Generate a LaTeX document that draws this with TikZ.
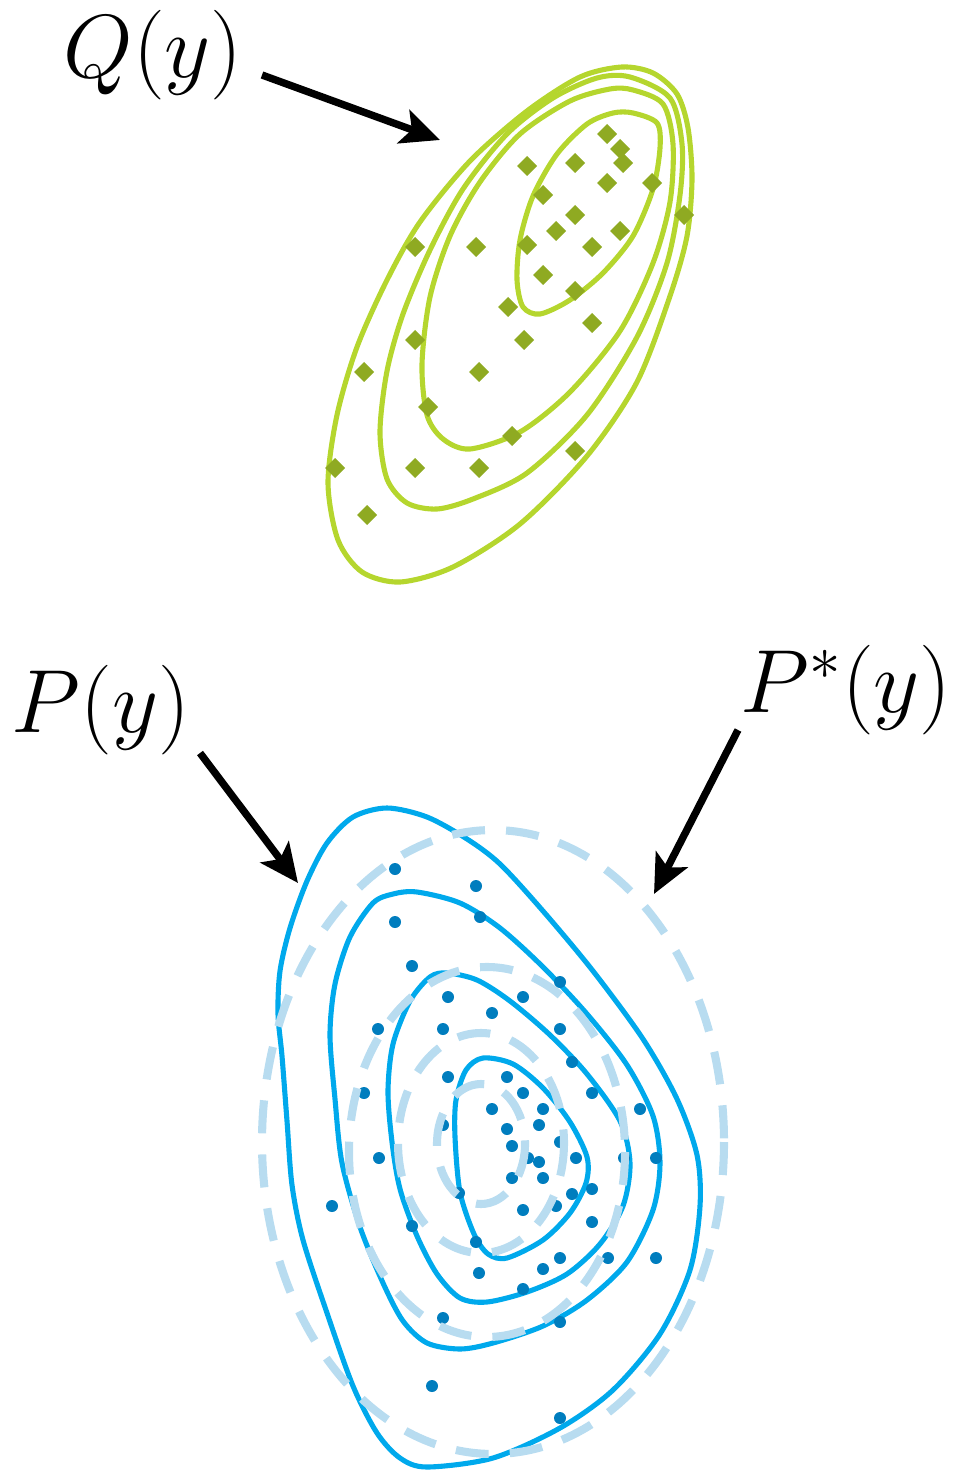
\documentclass[tikz,border=0pt]{standalone}
\usepackage{fix-cm}
\usetikzlibrary{arrows.meta}

\definecolor{qline}{RGB}{181,214,46}
\definecolor{qmark}{RGB}{143,170,34}
\definecolor{pline}{RGB}{0,169,236}
\definecolor{pmark}{RGB}{0,125,190}
\definecolor{pdash}{RGB}{184,220,240}

\begin{document}
\begin{tikzpicture}[
    x=0.01cm, y=-0.01cm,
    lbl/.style={inner sep=0pt, font=\fontsize{25.5}{30}\selectfont},
    arrow/.style={-{Stealth[length=11pt,width=10pt,inset=2.5pt]}, line width=2.1pt},
    qcont/.style={draw=qline, line width=1.45pt},
    pcont/.style={draw=pline, line width=1.45pt},
    pstar/.style={draw=pdash, line width=2.3pt, dash pattern=on 9.4pt off 6pt}
]
\useasboundingbox (0,0) rectangle (955,1470);

% labels
\node[lbl] (qlab) at (153,55) {$Q(y)$};
\node[lbl] (plab) at (101,710) {$P(y)$};
\node[lbl] (pslab) at (846,690) {$P^*(y)$};

\coordinate (qfrom) at (262,75);
\coordinate (qto) at (440,140);
\coordinate (pfrom) at (200,753);
\coordinate (pto) at (298,883);
\coordinate (psfrom) at (738,730);
\coordinate (psto) at (654,894);

% Q(y): contours and samples
\draw[qcont] plot[smooth cycle] coordinates {(622,67) (653,73) (677,94) (688,128) (692,179) (687,236) (670,296) (637,382) (587,456) (520,524) (453,567) (400,582) (362,572) (338,540) (328,483) (337,415) (357,347) (387,280) (420,222) (470,161) (527,111) (580,77)};
\draw[qcont] plot[smooth cycle] coordinates {(630,77) (670,98) (682,144) (680,195) (667,263) (637,337) (587,415) (527,473) (473,499) (437,509) (407,503) (387,479) (380,432) (387,371) (403,314) (430,250) (463,189) (507,134) (553,98) (597,78)};
\draw[qcont] plot[smooth cycle] coordinates {(633,90) (663,104) (673,144) (670,202) (653,263) (620,331) (570,392) (520,432) (470,449) (443,439) (427,415) (422,364) (430,297) (450,236) (480,182) (520,134) (570,101) (610,89)};
\draw[qcont] plot[smooth cycle] coordinates {(633,113) (657,123) (660,148) (653,189) (633,236) (603,273) (570,300) (540,314) (523,307) (517,280) (520,240) (533,196) (557,154) (587,124) (613,113)};

\foreach \x/\y in {607/134, 620/149, 623/163, 575/163, 527/166, 607/183, 652/183, 543/195,
    684/215, 575/215, 556/231, 620/231, 527/245, 592/247, 415/247, 476/247, 543/275, 575/291,
    508/307, 592/323, 415/340, 524/340, 364/372, 479/372, 428/407, 512/436, 575/451, 335/468,
    415/468, 479/468, 367/515}
    \fill[qmark] (\x,\y) +(0,-10) -- +(10,0) -- +(0,10) -- +(-10,0) -- cycle;

% P(y): contours and samples
\draw[pcont] plot[smooth cycle] coordinates {(387,808) (427,817) (467,839) (500,864) (543,911) (593,971) (643,1039) (677,1099) (697,1155) (700,1206) (690,1270) (660,1334) (613,1390) (560,1428) (493,1458) (427,1467) (400,1458) (377,1433) (353,1386) (327,1313) (303,1240) (292,1185) (287,1121) (282,1056) (278,1014) (280,971) (290,928) (307,881) (327,843) (353,817)};
\draw[pcont] plot[smooth cycle] coordinates {(417,892) (460,903) (500,928) (543,967) (587,1014) (627,1065) (653,1116) (660,1163) (653,1210) (627,1262) (587,1300) (543,1326) (493,1343) (460,1349) (427,1343) (403,1321) (383,1283) (360,1227) (342,1163) (335,1099) (330,1035) (335,984) (350,937) (373,903) (393,894)};
\draw[pcont] plot[smooth cycle] coordinates {(447,973) (477,980) (510,1001) (550,1035) (587,1074) (620,1121) (630,1163) (623,1206) (600,1244) (567,1274) (527,1292) (487,1302) (460,1298) (437,1274) (417,1236) (400,1189) (392,1142) (388,1091) (393,1044) (410,1001) (430,977)};
\draw[pcont] plot[smooth cycle] coordinates {(483,1058) (513,1064) (543,1088) (570,1122) (587,1157) (586,1183) (570,1213) (543,1240) (507,1258) (488,1254) (474,1234) (460,1192) (455,1137) (456,1100) (466,1070)};

\foreach \x/\y in {395/869, 476/886, 480/917, 395/922, 412/966, 448/997, 492/1013, 443/1029,
    378/1029, 448/1077, 364/1093, 492/1109, 443/1125, 560/982, 523/997, 560/1029, 572/1062,
    507/1077, 592/1093, 523/1093, 640/1109, 543/1109, 539/1125, 507/1129, 379/1158, 332/1206,
    412/1226, 459/1193, 476/1242, 479/1273, 443/1318, 432/1386, 512/1146, 560/1142, 528/1158,
    539/1162, 576/1158, 624/1158, 656/1158, 512/1178, 543/1178, 592/1189, 572/1194, 556/1206,
    523/1210, 592/1222, 560/1258, 608/1258, 656/1258, 543/1269, 523/1289, 560/1322, 560/1418}
    \fill[pmark] (\x,\y) circle (6);

% P*(y)
\draw[pstar] (493,1142) ellipse [x radius=231, y radius=312];
\draw[pstar] (487,1152) ellipse [x radius=138, y radius=185];
\draw[pstar] (481,1143) ellipse [x radius=83, y radius=110];
\draw[pstar] (481,1144) ellipse [x radius=44, y radius=60];

\draw[arrow] (qfrom) -- (qto);
\draw[arrow] (pfrom) -- (pto);
\draw[arrow] (psfrom) -- (psto);

\end{tikzpicture}
\end{document}
